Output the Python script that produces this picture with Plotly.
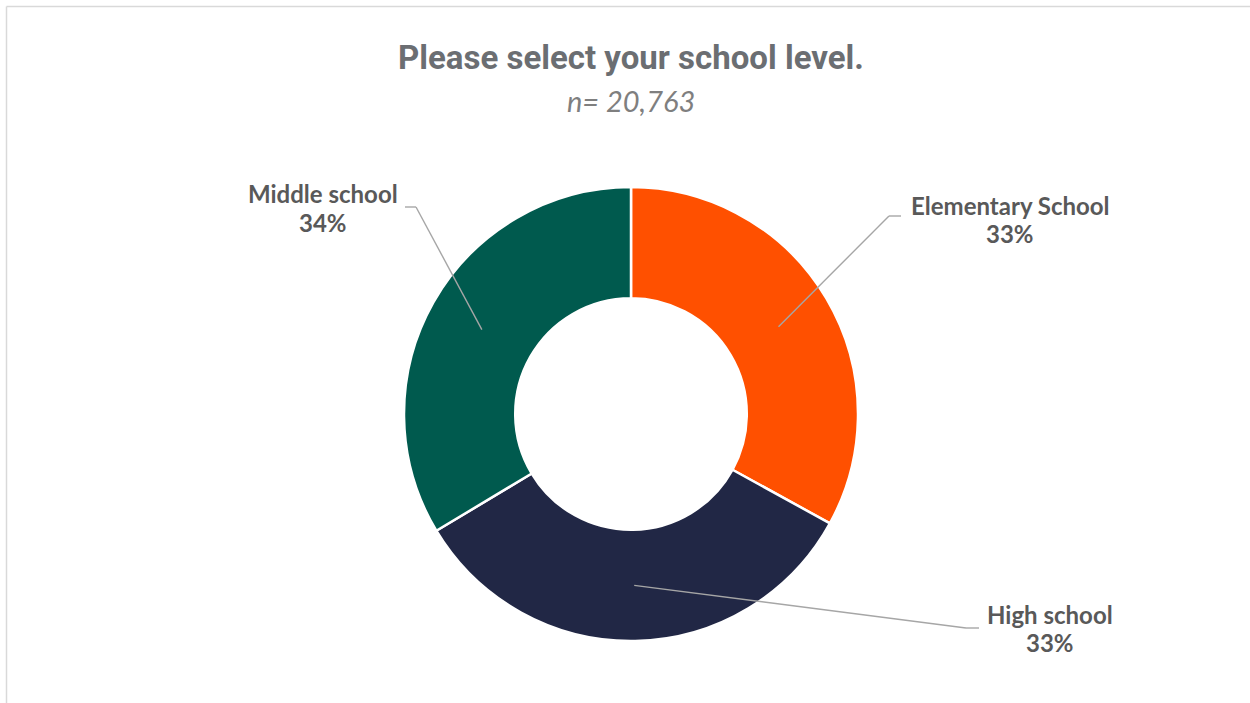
import math
import plotly.graph_objects as go

# ---- data ----
categories = ["Elementary School", "High school", "Middle school"]
counts = [6852, 6935, 6976]
pct_labels = ["33%", "33%", "34%"]
colors = ["#FF5000", "#212745", "#005A4E"]
title_text = "Please select your school level."
subtitle_text = "n= 20,763"

W, H = 1250, 703
cx, cy, R = 631, 414, 227
HOLE = 0.51

fig = go.Figure(go.Pie(
    labels=categories, values=counts, sort=False, direction="clockwise",
    rotation=0, hole=HOLE, textinfo="none", hoverinfo="label+percent",
    marker=dict(colors=colors, line=dict(color="white", width=2.5)),
    domain=dict(x=[(cx - R) / W, (cx + R) / W], y=[1 - (cy + R) / H, 1 - (cy - R) / H]),
    showlegend=False,
))

def px2paper(x, y):
    return x / W, 1 - y / H

# label layout (pixel positions): center x, name-line y, pct-line y
label_pos = [(1010, 205, 233), (1050, 614, 642), (323, 194, 222)]
elbow = [((889, 216), (901, 216)), ((966, 628), (979, 628)), ((416, 207), (405, 207))]

total = sum(counts)
cum = 0
rmid = R * (1 + HOLE) / 2
shapes = []
annotations = []
for i, v in enumerate(counts):
    mid = (cum + v / 2) / total * 2 * math.pi
    cum += v
    tx = cx + rmid * math.sin(mid)
    ty = cy - rmid * math.cos(mid)
    (e1x, e1y), (e2x, e2y) = elbow[i]
    for (a, b) in [((tx, ty), (e1x, e1y)), ((e1x, e1y), (e2x, e2y))]:
        x0, y0 = px2paper(*a)
        x1, y1 = px2paper(*b)
        shapes.append(dict(type="line", xref="paper", yref="paper", x0=x0, y0=y0, x1=x1, y1=y1,
                           line=dict(color="#A6A6A6", width=1.4)))
    lx, ly1, ly2 = label_pos[i]
    for txt, yy in [(categories[i], ly1), (pct_labels[i], ly2)]:
        annotations.append(dict(
            x=lx / W, y=1 - yy / H, xref="paper", yref="paper", showarrow=False,
            text=f"<b>{txt}</b>", align="center",
            font=dict(family="Lato, sans-serif", size=24, color="#595959"),
            xanchor="center", yanchor="middle"))

# title & subtitle
annotations.append(dict(x=631 / W, y=1 - 57 / H, xref="paper", yref="paper", showarrow=False,
                        text=f"<b>{title_text}</b>", xanchor="center", yanchor="middle",
                        font=dict(family="Roboto, sans-serif", size=33, color="#6B6E72")))
annotations.append(dict(x=631 / W, y=1 - 100 / H, xref="paper", yref="paper", showarrow=False,
                        text=f"<i>{subtitle_text}</i>", xanchor="center", yanchor="middle",
                        font=dict(family="Lato, sans-serif", size=29, color="#7F7F7F")))

# outer frame (top and left edges visible)
shapes.append(dict(type="line", xref="paper", yref="paper", x0=6.5 / W, y0=1 - 6.5 / H, x1=1.01, y1=1 - 6.5 / H,
                   line=dict(color="#D9D9D9", width=1.5)))
shapes.append(dict(type="line", xref="paper", yref="paper", x0=6.5 / W, y0=1 - 6.5 / H, x1=6.5 / W, y1=-0.01,
                   line=dict(color="#D9D9D9", width=1.5)))

fig.update_layout(width=W, height=H, margin=dict(l=0, r=0, t=0, b=0),
                  paper_bgcolor="white", plot_bgcolor="white",
                  shapes=shapes, annotations=annotations)
fig.write_html("out.html", config={"displayModeBar": False},
               post_script="document.body.style.margin='0';document.body.style.overflow='hidden';")
